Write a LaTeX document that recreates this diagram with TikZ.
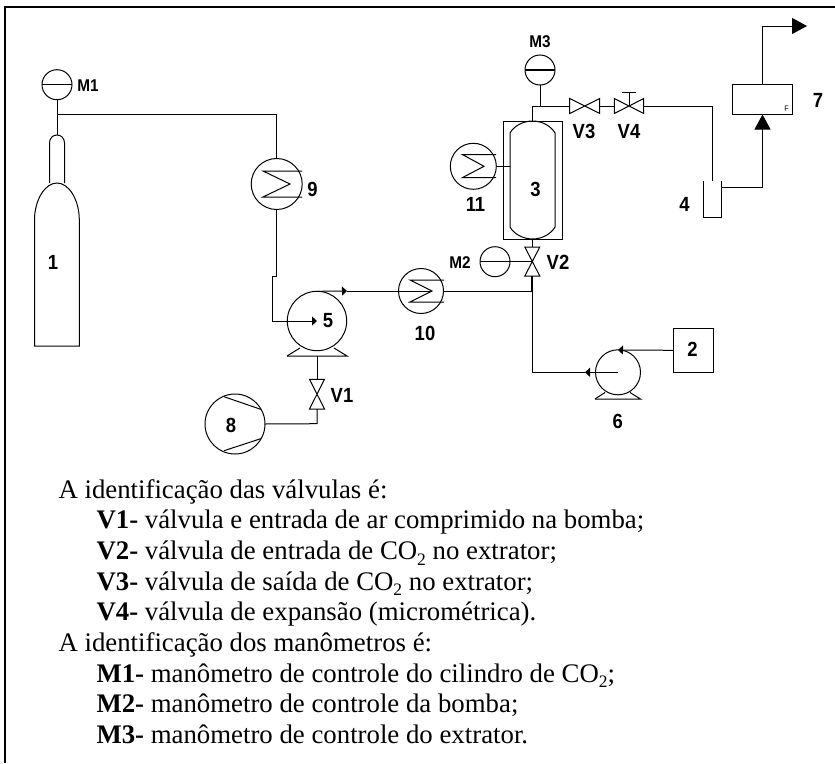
\documentclass[tikz,border=0pt]{standalone}
\usepackage{fontspec}
\setmainfont{Liberation Serif}
\newfontfamily\lblfont{Liberation Sans}[BoldFont={Liberation Sans Bold},FakeStretch=0.9]
\usetikzlibrary{arrows.meta}
\tikzset{
  x=1pt,y=-1pt,
  every path/.style={line width=1pt},
  disc/.style={draw,circle,inner sep=0pt,outer sep=0pt,minimum size=#1,line width=1pt},
  lbl/.style={font=\lblfont\fontsize{20.5}{20.5}\selectfont\bfseries,inner sep=0pt},
  sml/.style={font=\lblfont\fontsize{17}{17}\selectfont\bfseries,inner sep=0pt},
  txt/.style={anchor=base west,inner sep=0pt,font=\fontsize{26.8}{30}\selectfont},
  small tip/.style={-{Triangle[length=5pt,width=9pt]}},
  big tip/.style={-{Triangle[length=15pt,width=16pt]}},
  boxnode/.style={draw,inner sep=0pt,outer sep=0pt,minimum width=#1,line width=1pt},
  frame/.style={line width=2.2pt},
}
\newcommand{\COtwo}{CO\raisebox{-0.22em}{\fontsize{17.5}{17.5}\selectfont 2}}
\begin{document}
\begin{tikzpicture}
\useasboundingbox (0,0) rectangle (835,763);
\coordinate (fa) at (5.2,763); \coordinate (fb) at (5.2,7); \coordinate (fc) at (835,7);
\draw[frame] (fa) -- (fb) -- (fc);

% gauges
\node[disc=30pt] (m1) at (57,84.7) {};
\node[disc=30pt] (m2) at (495,261.7) {};
\node[disc=30pt] (m3) at (540,70) {};
\draw[line width=1.4pt] (m1.west) -- (m1.east);
\draw[line width=1.4pt] (m3.west) -- (m3.east);
\node[sml] (lm1) at (88,86) {M1};
\node[sml] (lm2) at (460,262.5) {M2};
\node[sml] (lm3) at (540,41.5) {M3};

% cylinder 1
\draw (34.5,346) -- (34.5,220) .. controls (34.5,200) and (45,183) .. (57,183)
      .. controls (69,183) and (79.3,200) .. (79.3,220) -- (79.3,346) -- cycle;
\draw (49.5,183) -- (49.5,143) .. controls (49.5,138) and (53,135) .. (57,135)
      .. controls (61,135) and (64.5,138) .. (64.5,143) -- (64.5,183);
\coordinate (cyl) at (57,135);
\coordinate (tee1) at (57,114.5);
\node[lbl] (l1) at (53,262) {1};

% exchanger 9
\node[disc=51pt] (h9) at (276.7,184) {};
\draw (302,171) -- (263,171) -- (290,184) -- (263,197) -- (302,197);
\node[lbl] (l9) at (312.5,189) {9};
\coordinate (c9a) at (276.7,114.5);
\draw (m1.south) -- (cyl);
\draw (tee1) -- (c9a) -- (h9.north);

% pump 5
\node[disc=59.4pt] (p5) at (317,321) {};
\draw (287,356) -- (347,356) -- (334,348);
\draw (287,356) -- (300,348);
\node[lbl] (l5) at (328,321) {5};
\coordinate (a5) at (317,321);
\coordinate (k1) at (276.7,276.3);
\coordinate (k2) at (272.3,276.3);
\coordinate (k3) at (272.3,321);
\draw[small tip] (h9.south) -- (k1) -- (k2) -- (k3) -- (a5);

% exchanger 10
\node[disc=45pt] (h10) at (421,291) {};
\draw (444,280) -- (410,280) -- (432,291) -- (410,302) -- (444,302);
\node[lbl] (l10) at (425,333.5) {10};
\coordinate (a10) at (347,291);
\coordinate (tee2) at (532.3,291);
\draw[small tip] (p5.north) -- (a10);
\draw (a10) -- (h10.west);
\draw (h10.east) -- (tee2);
\draw (h10.west) -- (432,291);

% valve V1, compressor 8
\node[disc=60pt] (c8) at (235,424) {};
\draw (224,396.7) -- (260.7,409.3);
\draw (224,450.7) -- (260.7,438.7);
\node[lbl] (l8) at (231,425) {8};
\coordinate (v1t) at (317,379.3);
\coordinate (v1b) at (317,409);
\coordinate (b5) at (317,356);
\coordinate (k4) at (317,423.7);
\draw (309.5,379.3) -- (324.5,379.3) -- (309.5,409) -- (324.5,409) -- cycle;
\draw (b5) -- (v1t);
\draw (v1b) -- (k4) -- (c8.east);
\node[lbl] (lv1) at (342,395.5) {V1};

% vessel 3 with jacket
\node[boxnode=59.3pt,minimum height=118pt] (jk) at (532.65,180) {};
\draw (510,133) .. controls (514,126) and (523,121) .. (532.5,121)
      .. controls (542,121) and (551,126) .. (555,133) -- (555,227)
      .. controls (551,234) and (542,239) .. (532.5,239)
      .. controls (523,239) and (514,234) .. (510,227) -- cycle;
\coordinate (vt) at (532.3,121);
\coordinate (vb) at (532.3,239);
\node[lbl] (l3) at (535.5,189) {3};

% exchanger 11
\node[disc=46pt] (h11) at (473.3,166.3) {};
\draw (496,154.5) -- (462.3,154.5) -- (484,166.3) -- (462.3,177.7) -- (496,177.7);
\coordinate (vl) at (510,166.3);
\draw (h11.east) -- (vl);
\node[lbl] (l11) at (475.5,204) {11};

% V2
\coordinate (v2t) at (532.3,247);
\coordinate (v2b) at (532.3,276);
\coordinate (v2m) at (532.3,261.7);
\draw (vb) -- (v2t);
\draw (524.8,247) -- (539.8,247) -- (524.8,276) -- (539.8,276) -- cycle;
\draw (m2.west) -- (v2m);
\draw[line width=1.8pt] (v2b) -- (tee2);
\node[lbl] (lv2) at (558,262.5) {V2};

% pump 6 and tank 2
\coordinate (k5) at (532.3,372.3);
\coordinate (a6) at (585,372.3);
\coordinate (c6) at (618,372.3);
\coordinate (a2) at (618,350);
\node[disc=45pt] (p6) at (c6) {};
\draw (595,399) -- (640.5,399) -- (630,392.5);
\draw (595,399) -- (605,392.5);
\node[boxnode=40pt,minimum height=44pt] (t2) at (693.3,350.3) {};
\node[lbl] (l2) at (692.5,349.5) {2};
\node[lbl] (l6) at (617.7,421.7) {6};
\draw[small tip] (c6) -- (a6);
\draw (a6) -- (k5);
\draw[line width=1.4pt] (tee2) -- (k5);
\draw[small tip] (t2.west) -- (a2);

% top line, V3, V4
\coordinate (tee3) at (540,106);
\coordinate (k6) at (532.3,106);
\coordinate (v3l) at (569.7,106);
\coordinate (v3r) at (599.7,106);
\coordinate (v4l) at (614.3,106);
\coordinate (v4r) at (643.7,106);
\coordinate (v4m) at (629,106);
\coordinate (v4s) at (629,92);
\coordinate (k7) at (712.3,106);
\coordinate (k8) at (712.3,181);
\draw (m3.south) -- (tee3);
\draw (vt) -- (k6) -- (v3l);
\draw (569.7,98.5) -- (569.7,113.5) -- (599.7,98.5) -- (599.7,113.5) -- cycle;
\draw (v3r) -- (v4l);
\draw (614.3,98.5) -- (614.3,113.5) -- (643.7,98.5) -- (643.7,113.5) -- cycle;
\draw (v4m) -- (v4s);
\draw (622,92) -- (636,92);
\draw (v4r) -- (k7) -- (k8);
\node[lbl] (lv3) at (584,131.5) {V3};
\node[lbl] (lv4) at (629,131.5) {V4};

% collector 4
\draw (703,181) -- (703,217.7) -- (721.7,217.7) -- (721.7,181);
\coordinate (o4) at (721.7,187.3);
\node[lbl] (l4) at (684.5,204) {4};

% meter 7
\node[boxnode=59.6pt,minimum height=29.8pt] (m7) at (762.5,99.6) {};
\node[inner sep=0pt,font=\lblfont\fontsize{8}{8}\selectfont] (lf) at (786.5,108.5) {F};
\node[lbl] (l7) at (818,100) {7};
\coordinate (k9) at (762.5,187.3);
\coordinate (k10) at (762.5,26);
\coordinate (out) at (807,26);
\draw[big tip] (o4) -- (k9) -- (m7.south);
\draw[big tip] (m7.north) -- (k10) -- (out);

% legend
\node[txt] (t1) at (58,498) {A identificação das válvulas é:};
\node[txt] (t2a) at (96,528.7) {\textbf{V1-} válvula e entrada de ar comprimido na bomba;};
\node[txt] (t3) at (96,559.3) {\textbf{V2-} válvula de entrada de \COtwo{} no extrator;};
\node[txt] (t4) at (96,590) {\textbf{V3-} válvula de saída de \COtwo{} no extrator;};
\node[txt] (t5) at (96,620.7) {\textbf{V4-} válvula de expansão (micrométrica).};
\node[txt] (t6) at (58,651.3) {A identificação dos manômetros é:};
\node[txt] (t7) at (96,682) {\textbf{M1-} manômetro de controle do cilindro de \COtwo;};
\node[txt] (t8) at (96,712.7) {\textbf{M2-} manômetro de controle da bomba;};
\node[txt] (t9) at (96,743.3) {\textbf{M3-} manômetro de controle do extrator.};
\end{tikzpicture}
\end{document}
